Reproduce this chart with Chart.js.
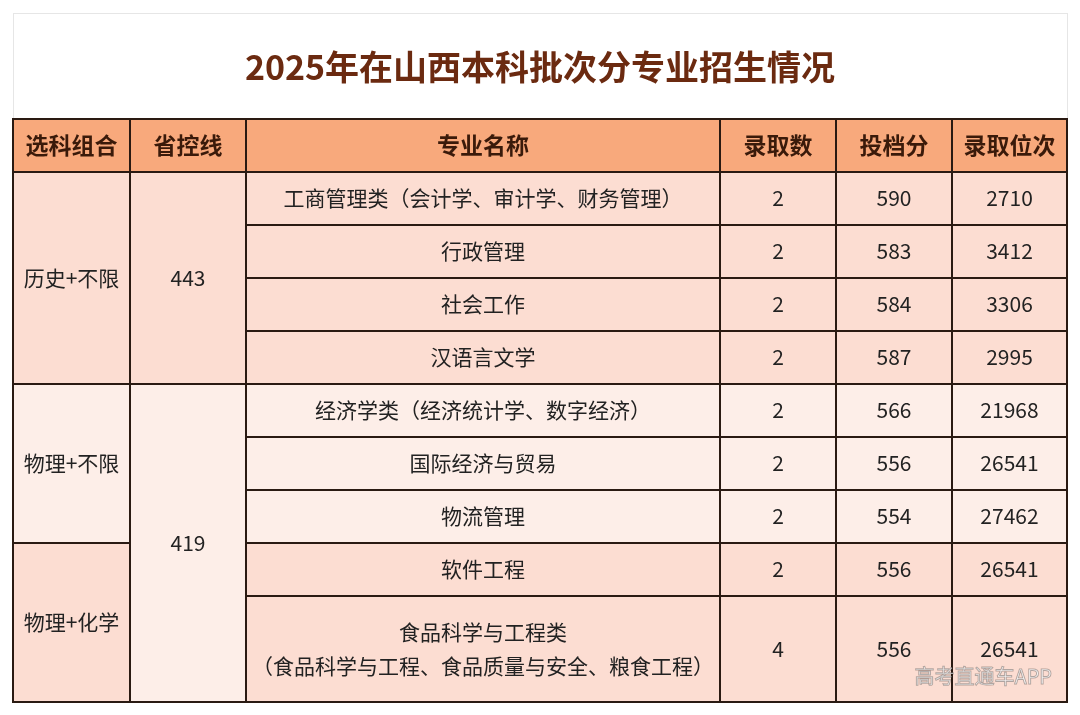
<!DOCTYPE html>
<html><head><meta charset="utf-8">
<script src="https://cdn.jsdelivr.net/npm/chart.js@4.4.1/dist/chart.umd.min.js"></script>
<style>html,body{margin:0;padding:0;background:#fff}</style>
</head><body>
<canvas id="c" width="1080" height="715"></canvas>
<script>
const title = "2025年在山西本科批次分专业招生情况";
const headers = ["选科组合","省控线","专业名称","录取数","投档分","录取位次"];
const groups = ["历史+不限","物理+不限","物理+化学"];
const groupRows = [[0,4],[4,7],[7,9]];
const controlLines = ["443","419"];
const controlRows = [[0,4],[4,9]];
const majors = ["工商管理类（会计学、审计学、财务管理）","行政管理","社会工作","汉语言文学","经济学类（经济统计学、数字经济）","国际经济与贸易","物流管理","软件工程","食品科学与工程类\n（食品科学与工程、食品质量与安全、粮食工程）"];
const admitted = [2,2,2,2,2,2,2,2,4];
const scores = [590,583,584,587,566,556,554,556,556];
const ranks = [2710,3412,3306,2995,21968,26541,27462,26541,26541];
const watermark = "高考直通车APP";

// layout (not data)
const colX = [13,130,246,720,836,952,1067];
const headTop = 119, headBot = 172;
const rowY = [172,225,278,331,384,437,490,543,596,702];
const C = {head:"#F8A97C", body:"#FCDDD2", light:"#FDEEE8", line:"#2a1a12", title:"#6B2A10", text:"#222"};
const FONT = '"Noto Sans CJK SC","Noto Sans",sans-serif';

const tablePlugin = {
  id:'table',
  afterDraw(chart){
    const ctx = chart.ctx, xs = chart.scales.x, ys = chart.scales.y;
    const X = v=>xs.getPixelForValue(v), Y = v=>ys.getPixelForValue(v);
    ctx.save();
    ctx.strokeStyle="#e6e6e6"; ctx.lineWidth=1;
    ctx.strokeRect(X(13)+0.5,Y(13)+0.5,X(1067)-X(13),Y(headTop)-Y(13));
    ctx.fillStyle=C.title; ctx.font='bold 34px '+FONT; ctx.textAlign='center'; ctx.textBaseline='middle';
    ctx.fillText(title,X(540),Y(67));
    const cell=(c0,c1,r0,r1,fill,text,font,color)=>{
      const x0=X(colX[c0]),x1=X(colX[c1]),y0=Y(r0),y1=Y(r1);
      ctx.fillStyle=fill; ctx.fillRect(x0,y0,x1-x0,y1-y0);
      ctx.strokeStyle=C.line; ctx.lineWidth=2; ctx.strokeRect(x0,y0,x1-x0,y1-y0);
      ctx.fillStyle=color||C.text; ctx.font=font||('21px '+FONT);
      const lines=String(text).split('\n'); const lh=34;
      lines.forEach((l,i)=>ctx.fillText(l,(x0+x1)/2,(y0+y1)/2+(i-(lines.length-1)/2)*lh));
    };
    headers.forEach((h,i)=>cell(i,i+1,headTop,headBot,C.head,h,'bold 23px '+FONT,'#3a1a0a'));
    const rowFill=r=>(r>=4&&r<7)?C.light:C.body;
    groups.forEach((g,i)=>{const [a,b]=groupRows[i];cell(0,1,rowY[a],rowY[b],rowFill(a),g);});
    controlLines.forEach((g,i)=>{const [a,b]=controlRows[i];cell(1,2,rowY[a],rowY[b],rowFill(a),g);});
    majors.forEach((m,r)=>{
      const f=rowFill(r);
      cell(2,3,rowY[r],rowY[r+1],f,m);
      cell(3,4,rowY[r],rowY[r+1],f,admitted[r]);
      cell(4,5,rowY[r],rowY[r+1],f,scores[r]);
      cell(5,6,rowY[r],rowY[r+1],f,ranks[r]);
    });
    ctx.fillStyle="rgba(255,255,255,0.85)"; ctx.font='20px '+FONT; ctx.textAlign='right';
    ctx.strokeStyle="rgba(0,0,0,0.3)"; ctx.lineWidth=1;
    ctx.fillText(watermark,X(1052),Y(676)); ctx.strokeText(watermark,X(1052),Y(676));
    ctx.restore();
  }
};
new Chart(document.getElementById('c'),{
  type:'scatter',
  data:{datasets:[{data:[],pointRadius:0}]},
  options:{responsive:false,animation:false,devicePixelRatio:1,
    layout:{padding:0},
    plugins:{legend:{display:false},tooltip:{enabled:false}},
    scales:{x:{type:'linear',min:0,max:1080,display:false},
            y:{type:'linear',min:0,max:715,reverse:true,display:false}}},
  plugins:[tablePlugin]
});
</script></body></html>
